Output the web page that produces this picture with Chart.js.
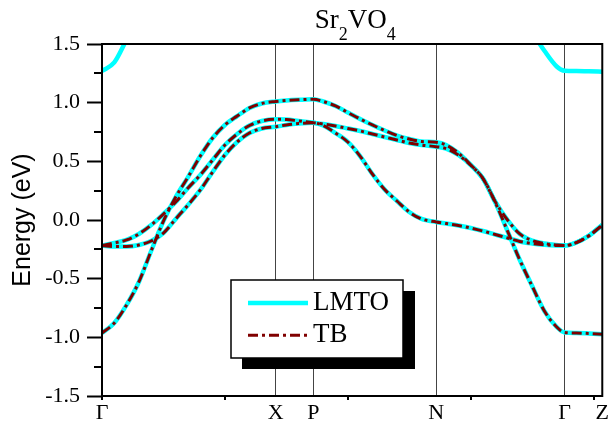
<!DOCTYPE html>
<html>
<head>
<meta charset="utf-8">
<title>Sr2VO4 band structure</title>
<script src="https://cdn.jsdelivr.net/npm/chart.js@4.4.1/dist/chart.umd.min.js"></script>
<style>
  html, body { margin: 0; padding: 0; background: #fff; }
  canvas { display: block; }
</style>
</head>
<body>
<canvas id="bands" width="613" height="425"></canvas>
<script>
// high-symmetry points along the path (k in units of 2pi/a)
const symPoints = [0, 0.7071, 0.8599, 1.3599, 1.8827, 2.0355];
const symLabels = ['Γ', 'X', 'P', 'N', 'Γ', 'Z'];

// sampled k along Γ-X-P-N-Γ-Z
const kPath = [
  0, 0.05, 0.10, 0.15, 0.20, 0.25, 0.30, 0.35, 0.40, 0.45, 0.50, 0.55, 0.60, 0.65, 0.7071,
  0.75, 0.80, 0.8599,
  0.90, 0.95, 1.00, 1.05, 1.10, 1.15, 1.20, 1.25, 1.30, 1.3599,
  1.40, 1.45, 1.50, 1.55, 1.60, 1.65, 1.70, 1.75, 1.80, 1.85, 1.8827,
  1.93, 1.98, 2.0355
];

// band energies (eV) on kPath
const bandUpper = [
  1.270, 1.343, 1.537, null, null, null, null, null, null, null, null, null, null, null, null,
  null, null, null,
  null, null, null, null, null, null, null, null, null, null,
  null, null, null, null, null, null, null, 1.600, 1.442, 1.308, 1.272,
  1.270, 1.267, 1.264
];
const bandXY = [
  -0.963, -0.878, -0.724, -0.528, -0.264, -0.009, 0.196, 0.366, 0.545, 0.699, 0.810, 0.886, 0.955, 0.993, 1.010,
  1.018, 1.024, 1.029,
  1.010, 0.972, 0.916, 0.861, 0.810, 0.763, 0.720, 0.690, 0.669, 0.662,
  0.639, 0.571, 0.469, 0.354, 0.150, -0.094, -0.341, -0.563, -0.776, -0.912, -0.959,
  -0.963, -0.967, -0.973
];
const bandXZ = [
  -0.218, -0.196, -0.170, -0.119, -0.043, 0.051, 0.153, 0.273, 0.384, 0.511, 0.639, 0.733, 0.805, 0.844, 0.858,
  0.857, 0.844, 0.829,
  0.818, 0.801, 0.780, 0.759, 0.733, 0.707, 0.682, 0.656, 0.639, 0.625,
  0.609, 0.554, 0.469, 0.354, 0.156, 0.000, -0.119, -0.175, -0.200, -0.213, -0.218,
  -0.192, -0.136, -0.043
];
const bandYZ = [
  -0.218, -0.226, -0.226, -0.213, -0.179, -0.111, 0.009, 0.128, 0.256, 0.409, 0.554, 0.665, 0.741, 0.780, 0.795,
  0.810, 0.822, 0.829,
  0.805, 0.741, 0.665, 0.545, 0.392, 0.260, 0.162, 0.068, 0.009, -0.017,
  -0.030, -0.047, -0.068, -0.094, -0.124, -0.153, -0.183, -0.200, -0.211, -0.217, -0.218,
  -0.192, -0.136, -0.043
];

const lmtoBands = [bandUpper, bandXY, bandXZ, bandYZ];
const tbBands = [bandXY, bandXZ, bandYZ];
const legendItems = ['LMTO', 'TB'];
const titleParts = [
  { text: 'Sr' }, { text: '2', sub: true }, { text: 'VO' }, { text: '4', sub: true }
];

const SERIF = '"Liberation Serif", "Times New Roman", serif';
const SANS = '"Liberation Sans", Arial, sans-serif';

const toPoints = band => kPath.map((k, i) => ({ x: k, y: band[i] }));

const datasets = [];
tbBands.forEach(b => datasets.push({
  label: 'TB', data: toPoints(b), order: 0,
  borderColor: '#800000', borderWidth: 3, borderDash: [10, 4, 3, 4]
}));
lmtoBands.forEach(b => datasets.push({
  label: 'LMTO', data: toPoints(b), order: 1,
  borderColor: '#00ffff', borderWidth: 4.5
}));

// frame round the plot plus the short minor ticks
const frame = {
  id: 'frame',
  afterDatasetsDraw(chart) {
    const { ctx, chartArea: a, scales } = chart;
    ctx.save();
    ctx.strokeStyle = '#000';
    ctx.lineWidth = 2;
    ctx.strokeRect(a.left, a.top, a.right - a.left, a.bottom - a.top);
    for (let v = -1.25; v < 1.5; v += 0.5) {
      const y = Math.round(scales.y.getPixelForValue(v));
      ctx.beginPath(); ctx.moveTo(a.left - 8, y); ctx.lineTo(a.left, y); ctx.stroke();
    }
    for (let v = 0; v <= scales.x.max; v += 0.5) {
      const x = Math.round(scales.x.getPixelForValue(v));
      ctx.beginPath(); ctx.moveTo(x, a.bottom); ctx.lineTo(x, a.bottom + 4); ctx.stroke();
    }
    ctx.restore();
  }
};

// chemical formula with subscripts above the plot
const formulaTitle = {
  id: 'formulaTitle',
  afterDraw(chart) {
    const { ctx, chartArea: a } = chart;
    const big = '27px ' + SERIF, small = '18px ' + SERIF;
    ctx.save();
    ctx.fillStyle = '#000';
    ctx.textBaseline = 'alphabetic';
    let w = 0;
    titleParts.forEach(p => { ctx.font = p.sub ? small : big; w += ctx.measureText(p.text).width; });
    let x = (a.left + a.right) / 2 - w / 2 + 3;
    titleParts.forEach(p => {
      ctx.font = p.sub ? small : big;
      ctx.fillText(p.text, x, p.sub ? 40 : 28);
      x += ctx.measureText(p.text).width;
    });
    ctx.restore();
  }
};

// boxed legend with a drop shadow
const boxLegend = {
  id: 'boxLegend',
  afterDraw(chart) {
    const { ctx } = chart;
    const x = 231, y = 280, w = 172, h = 78, shadow = 11;
    ctx.save();
    ctx.fillStyle = '#000';
    ctx.fillRect(x + shadow, y + shadow, w + 1, h);
    ctx.fillStyle = '#fff';
    ctx.fillRect(x, y, w, h);
    ctx.strokeStyle = '#000';
    ctx.lineWidth = 1.5;
    ctx.strokeRect(x, y, w, h);
    legendItems.forEach((label, i) => {
      const ds = chart.data.datasets.find(d => d.label === label);
      const ly = y + 23 + i * 32.3;
      ctx.strokeStyle = ds.borderColor;
      ctx.lineWidth = ds.borderWidth;
      ctx.setLineDash(ds.borderDash || []);
      ctx.beginPath(); ctx.moveTo(x + 17, ly); ctx.lineTo(x + 77, ly); ctx.stroke();
      ctx.setLineDash([]);
      ctx.fillStyle = '#000';
      ctx.font = '27px ' + SERIF;
      ctx.textBaseline = 'middle';
      ctx.fillText(label, x + 82, ly);
    });
    ctx.restore();
  }
};

new Chart(document.getElementById('bands'), {
  type: 'line',
  data: { datasets },
  options: {
    responsive: false,
    animation: false,
    events: [],
    layout: { padding: { top: 44, right: 9, left: 0, bottom: 0 } },
    elements: {
      point: { radius: 0 },
      line: { cubicInterpolationMode: 'monotone', fill: false }
    },
    datasets: { line: { clip: 0, spanGaps: false } },
    scales: {
      x: {
        type: 'linear',
        min: 0,
        max: symPoints[symPoints.length - 1],
        afterFit(scale) { scale.height = 29; },
        afterBuildTicks(scale) { scale.ticks = symPoints.map(v => ({ value: v })); },
        border: { display: false },
        grid: {
          drawTicks: false,
          lineWidth: 1,
          color: c => (c.index === 0 || c.index === symPoints.length - 1) ? 'rgba(0,0,0,0)' : '#444'
        },
        ticks: {
          padding: 4,
          autoSkip: false,
          maxRotation: 0,
          color: '#000',
          font: { family: SERIF, size: 22 },
          callback: (v, i) => symLabels[i]
        }
      },
      y: {
        min: -1.5,
        max: 1.5,
        afterFit(scale) { scale.width = 102; },
        border: { display: false },
        grid: { drawOnChartArea: false, tickLength: 15, tickWidth: 2, tickColor: '#000' },
        ticks: {
          stepSize: 0.5,
          padding: 7,
          color: '#000',
          font: { family: SERIF, size: 22 },
          callback: v => v.toFixed(1)
        },
        title: {
          display: true,
          text: 'Energy (eV)',
          color: '#000',
          font: { family: SANS, size: 25 },
          padding: { top: 8, bottom: 0 }
        }
      }
    },
    plugins: {
      legend: { display: false },
      tooltip: { enabled: false }
    }
  },
  plugins: [frame, formulaTitle, boxLegend]
});
</script>
</body>
</html>
